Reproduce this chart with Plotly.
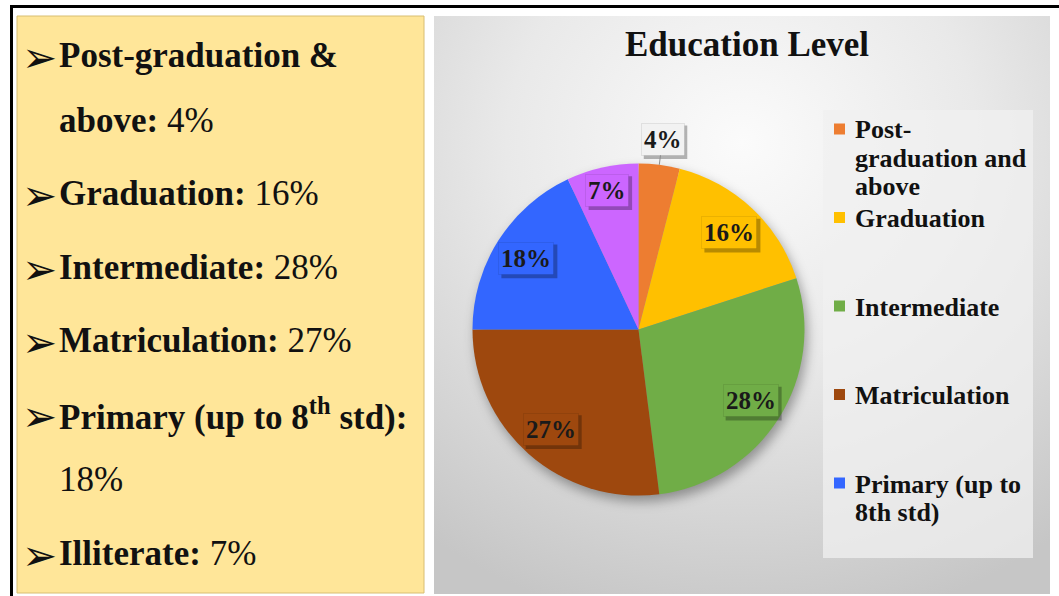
import base64
import math
import plotly.graph_objects as go

W, H = 1059, 596

# ---- data -------------------------------------------------------------
categories = ["Post-graduation and above", "Graduation", "Intermediate",
              "Matriculation", "Primary (up to 8th std)", "Illiterate"]
shares = [4, 16, 28, 27, 18, 7]
slice_colors = ["#ED7D31", "#FFC000", "#70AD47", "#9E480E", "#3366FF", "#CC66FF"]

# wording used in the summary box (bold heads, value appended to last line)
summary_heads = [["Post-graduation &", "above:"], ["Graduation:"], ["Intermediate:"],
                 ["Matriculation:"], ["Primary (up to 8<sup>th</sup> std):", ""], ["Illiterate:"]]
# wrapped legend wording
legend_lines = [["Post-", "graduation and", "above"], ["Graduation"], ["Intermediate"],
                ["Matriculation"], ["Primary (up to", "8th std)"], ["Illiterate"]]
chart_title = "Education Level"

# ---- helpers (pixel -> paper) ----------------------------------------
def px(x):
    return x / W


def py(y):
    return 1 - y / H


SERIF = "Liberation Serif, Times New Roman, serif"

# geometry of the two panels and the pie
BOX = (17, 16, 424, 593)        # summary box
PANEL = (434, 16, 1050, 594)    # chart panel
CX, CY, R = 638.5, 329.5, 166   # pie centre / radius
LEG = (823, 110, 1033, 558)     # legend box
LABEL_SIZE = 25

# ---- chart panel background (radial gradient + pie shadow) -----------
pw, ph = PANEL[2] - PANEL[0], PANEL[3] - PANEL[1]
svg = f"""<svg xmlns='http://www.w3.org/2000/svg' width='{pw}' height='{ph}' viewBox='0 0 {pw} {ph}'>
<defs>
<radialGradient id='g' cx='0.5' cy='0.22' r='0.85'>
<stop offset='0' stop-color='#fbfbfb'/>
<stop offset='0.45' stop-color='#e9e9e9'/>
<stop offset='1' stop-color='#c6c6c6'/>
</radialGradient>
<filter id='b' x='-20%' y='-20%' width='140%' height='140%'><feGaussianBlur stdDeviation='6'/></filter>
</defs>
<rect width='{pw}' height='{ph}' fill='url(#g)'/>
<circle cx='{CX - PANEL[0] + 3}' cy='{CY - PANEL[1] + 6}' r='{R}' fill='black' fill-opacity='0.35' filter='url(#b)'/>
</svg>"""
bg_uri = "data:image/svg+xml;base64," + base64.b64encode(svg.encode()).decode()

fig = go.Figure()

fig.add_trace(go.Pie(
    labels=categories,
    values=shares,
    sort=False,
    direction="clockwise",
    rotation=0,
    marker=dict(colors=slice_colors, line=dict(width=0)),
    textinfo="none",
    showlegend=False,
    domain=dict(x=[px(CX - R), px(CX + R)], y=[py(CY + R), py(CY - R)]),
))

shapes = []
annotations = []

# outer frame
shapes.append(dict(type="line", xref="paper", yref="paper",
                   x0=px(10), x1=px(W + 5), y0=py(6.5), y1=py(6.5),
                   line=dict(color="black", width=3)))
shapes.append(dict(type="line", xref="paper", yref="paper",
                   x0=px(11.5), x1=px(11.5), y0=py(5), y1=py(H + 5),
                   line=dict(color="black", width=3)))

# summary box
shapes.append(dict(type="rect", xref="paper", yref="paper", layer="below",
                   x0=px(BOX[0]), x1=px(BOX[2]), y0=py(BOX[3]), y1=py(BOX[1]),
                   fillcolor="#FFE699", line=dict(color="#D8BE72", width=1)))

# legend box
shapes.append(dict(type="rect", xref="paper", yref="paper", layer="below",
                   x0=px(LEG[0]), x1=px(LEG[2]), y0=py(LEG[3]), y1=py(LEG[1]),
                   fillcolor="rgba(240,240,240,0.75)", line=dict(width=0)))

# ---- summary box text ---------------------------------------------------
y = 55
for heads, share in zip(summary_heads, shares):
    for k, head in enumerate(heads):
        last = k == len(heads) - 1
        txt = f"<b>{head}</b>" if head else ""
        if last:
            txt = (txt + " " if txt else "") + f"{share}%"
        if k == 0:
            annotations.append(dict(xref="paper", yref="paper", x=px(39), y=py(y + 2),
                                    text="➢", showarrow=False, xanchor="center", yanchor="middle",
                                    font=dict(family="DejaVu Sans", size=42, color="#111111")))
        annotations.append(dict(xref="paper", yref="paper", x=px(57), y=py(y),
                                text=txt, showarrow=False, xanchor="left", yanchor="middle",
                                font=dict(family=SERIF, size=35, color="#111111")))
        if not last:
            y += 65.5
    y += 73.4

# ---- title ------------------------------------------------------------
annotations.append(dict(xref="paper", yref="paper", x=px((PANEL[0] + PANEL[2]) / 2 + 5), y=py(44.5),
                        text=f"<b>{chart_title}</b>", showarrow=False,
                        xanchor="center", yanchor="middle",
                        font=dict(family=SERIF, size=35, color="#111111")))

# ---- data labels ------------------------------------------------------
total = sum(shares)
cum = 0
for share, col in zip(shares, slice_colors):
    theta = 2 * math.pi * (cum + share / 2) / total
    cum += share
    pct = f"{round(100 * share / total)}%"
    label = f"<b>{pct}</b>"
    outside = share < 5
    rr = 1.155 * R if outside else (0.8 * R if share >= 10 else 0.86 * R)
    lx, ly = CX + rr * math.sin(theta), CY - rr * math.cos(theta)
    fill = "#F2F2F2" if outside else col
    # drop shadow behind the label box (Times bold: digits 0.5 em, % 1 em)
    bw = (0.5 * (len(pct) - 1) + 1.0) * LABEL_SIZE + 6
    bh = 1.107 * LABEL_SIZE + 6
    shapes.append(dict(type="rect", xref="paper", yref="paper",
                       x0=px(lx - bw / 2 + 3), x1=px(lx + bw / 2 + 3),
                       y0=py(ly + bh / 2 + 3), y1=py(ly - bh / 2 + 3),
                       fillcolor="rgba(0,0,0,0.28)", line=dict(width=0)))
    if outside:
        ex, ey = CX + R * math.sin(theta), CY - R * math.cos(theta)
        annotations.append(dict(xref="paper", yref="paper", x=px(ex), y=py(ey), text=label,
                                showarrow=True, arrowhead=0, arrowwidth=1, arrowcolor="#8c8c8c",
                                ax=lx - ex, ay=ly - ey, standoff=0,
                                borderpad=2, borderwidth=1, bordercolor="rgba(0,0,0,0.08)",
                                bgcolor=fill,
                                font=dict(family=SERIF, size=LABEL_SIZE, color="#1a1a1a")))
    else:
        annotations.append(dict(xref="paper", yref="paper", x=px(lx), y=py(ly), text=label,
                                xanchor="center", yanchor="middle", borderpad=2, borderwidth=1,
                                showarrow=False, bgcolor=fill,
                                bordercolor="rgba(0,0,0,0.08)",
                                font=dict(family=SERIF, size=LABEL_SIZE, color="#1a1a1a")))

# ---- legend -------------------------------------------------------------
LEG_Y0, PITCH, LINE = 130, 88.5, 28
for i, (lines, col) in enumerate(zip(legend_lines, slice_colors)):
    y0 = LEG_Y0 + i * PITCH
    if y0 + (len(lines) - 1) * LINE > LEG[3] - 12:
        break
    shapes.append(dict(type="rect", xref="paper", yref="paper",
                       x0=px(834), x1=px(845), y0=py(y0 + 4.5), y1=py(y0 - 6.5),
                       fillcolor=col, line=dict(width=0)))
    for k, ln in enumerate(lines):
        annotations.append(dict(xref="paper", yref="paper", x=px(853), y=py(y0 + k * LINE),
                                text=f"<b>{ln}</b>", showarrow=False,
                                xanchor="left", yanchor="middle",
                                font=dict(family=SERIF, size=26, color="#111111")))

fig.update_layout(
    width=W, height=H,
    margin=dict(l=0, r=0, t=0, b=0),
    paper_bgcolor="white",
    plot_bgcolor="white",
    shapes=shapes,
    annotations=annotations,
    images=[dict(source=bg_uri, xref="paper", yref="paper",
                 x=px(PANEL[0]), y=py(PANEL[1]),
                 sizex=pw / W, sizey=ph / H,
                 xanchor="left", yanchor="top", sizing="stretch", layer="below")],
)

fig.write_html("out.html")
